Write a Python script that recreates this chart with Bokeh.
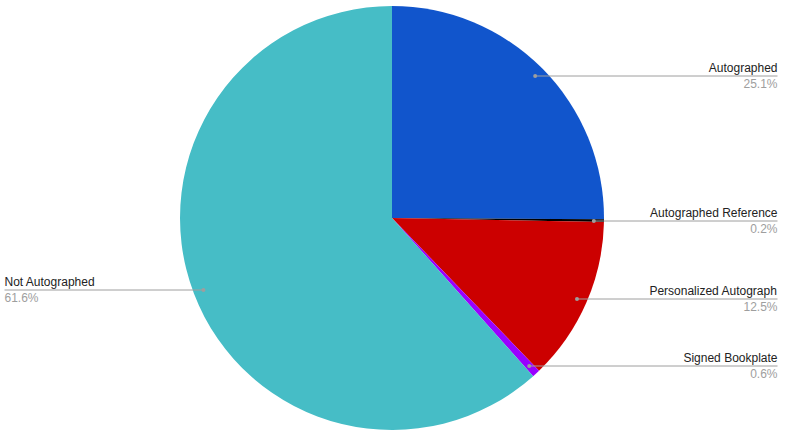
import math
from bokeh.plotting import figure
from bokeh.models import Range1d, ColumnDataSource
from bokeh.core.properties import value
from bokeh.embed import file_html
from bokeh.resources import INLINE

# ---- data ----
categories = ["Autographed", "Autographed Reference", "Personalized Autograph",
              "Signed Bookplate", "Not Autographed"]
shares = [25.1, 0.2, 12.5, 0.6, 61.6]
colors = ["#1155cc", "#000000", "#cc0000", "#9900ff", "#46bdc6"]

# ---- geometry (screen-like coordinates, y up) ----
W, H = 785, 434
CX, CY = 391.5, 434 - 217.5
R = 212
total = sum(shares)

p = figure(width=W, height=H, output_backend="svg", toolbar_location=None,
           x_range=Range1d(0, W), y_range=Range1d(0, H),
           min_border=0)
p.axis.visible = False
p.grid.visible = False
p.outline_line_color = None
p.background_fill_color = "white"

starts, ends = [], []
cum = 0.0
for s in shares:
    a0 = math.pi / 2 - cum / total * 2 * math.pi
    cum += s
    a1 = math.pi / 2 - cum / total * 2 * math.pi
    starts.append(a0)
    ends.append(a1)

src = ColumnDataSource(dict(start=starts, end=ends, color=colors))
p.wedge(x=CX, y=CY, radius=R, start_angle="start", end_angle="end",
        direction="clock", fill_color="color", line_color=None, source=src)

# leader lines and labels
dot_x, dot_y, lx0, lx1 = [], [], [], []
lab_x, lab_y, lab_t, lab_align = [], [], [], []
pct_y, pct_t = [], []
for cat, s, a0, a1 in zip(categories, shares, starts, ends):
    mid = (a0 + a1) / 2
    dx = CX + 0.952 * R * math.cos(mid)
    dy = round(CY + 0.952 * R * math.sin(mid)) - 0.5
    dot_x.append(dx); dot_y.append(dy)
    if math.cos(mid) >= 0:
        lx0.append(dx); lx1.append(777)
        lab_x.append(777); lab_align.append("right")
    else:
        lx0.append(4); lx1.append(dx)
        lab_x.append(4); lab_align.append("left")
    lab_y.append(dy + 1.5)
    pct_y.append(dy - 0.5)
    lab_t.append(cat)
    pct_t.append(f"{s / total * 100:.1f}%")

p.segment(x0=lx0, y0=dot_y, x1=lx1, y1=dot_y, line_color="#9e9e9e", line_width=1)
p.scatter(x=dot_x, y=dot_y, size=4, fill_color="#9e9e9e", line_color=None)

lsrc = ColumnDataSource(dict(x=lab_x, y=lab_y, t=lab_t, a=lab_align, py=pct_y, pt=pct_t))
p.text(x="x", y="y", text="t", text_align="a", text_baseline="bottom",
       text_font=value("Liberation Sans"), text_font_size="12px",
       text_color="#222222", source=lsrc)
p.text(x="x", y="py", text="pt", text_align="a", text_baseline="top",
       text_font=value("Liberation Sans"), text_font_size="12px",
       text_color="#9e9e9e", source=lsrc)

open("out.html", "w").write(file_html(p, INLINE))
